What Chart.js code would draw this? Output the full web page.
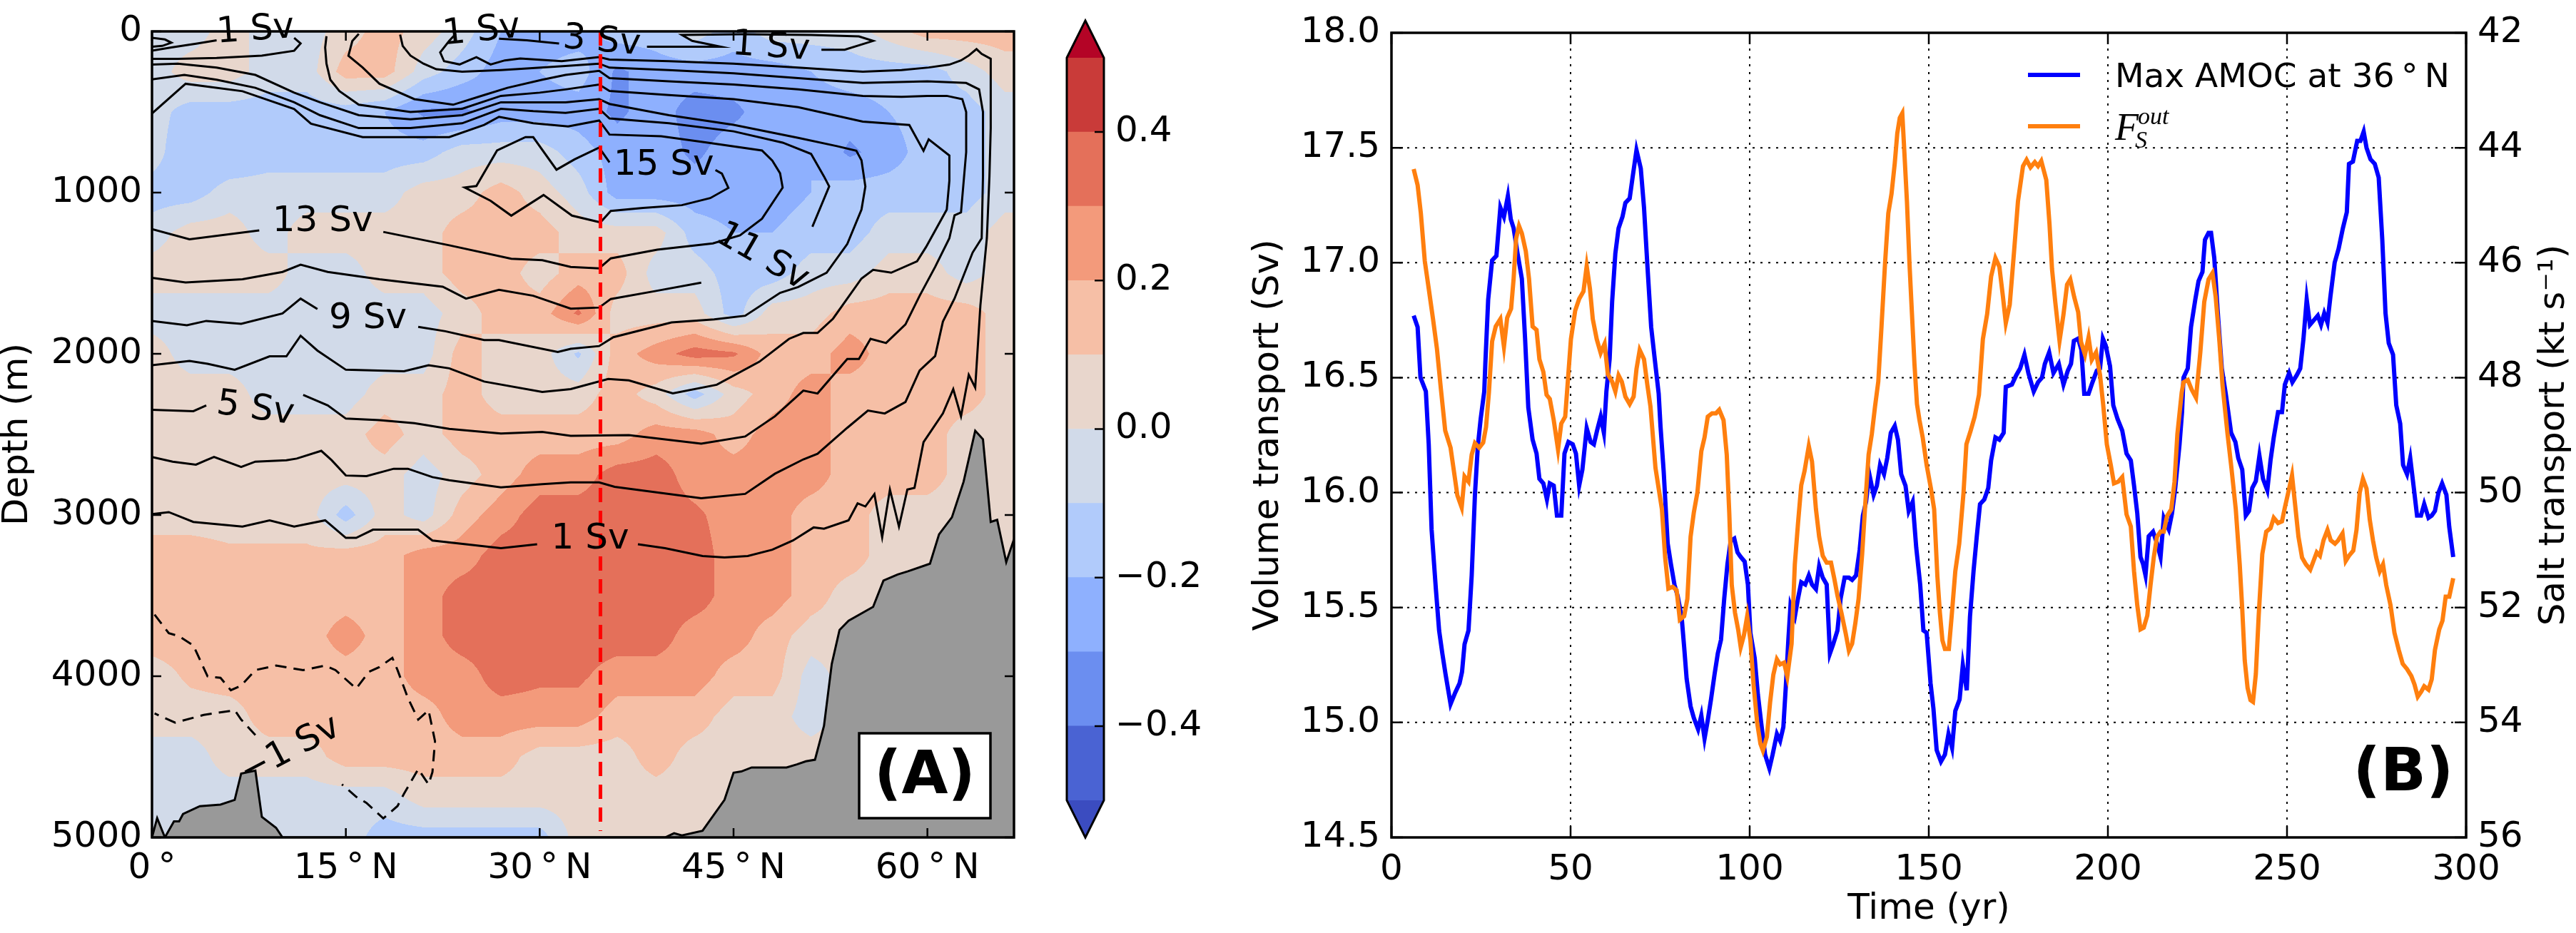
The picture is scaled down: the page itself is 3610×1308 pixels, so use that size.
<!DOCTYPE html>
<html>
<head>
<meta charset="utf-8">
<script src="https://cdn.jsdelivr.net/npm/chart.js@4.4.1/dist/chart.umd.min.js"></script>
<style>
  body { margin: 0; background: #fff; overflow: hidden; }
  #wrap { position: relative; width: 3610px; height: 1308px; background: #fff; }
  canvas { position: absolute; top: 0; }
</style>
</head>
<body>
<div id="wrap">
  <canvas id="chartA" width="1470" height="1308" style="left:0"></canvas>
  <canvas id="chartCb" width="230" height="1308" style="left:1470px"></canvas>
  <canvas id="chartB" width="1910" height="1308" style="left:1700px"></canvas>
</div>
<script>
// ---------- panel A : overturning anomaly section ----------
const anomLat = [0,3,6,9,12,15,18,21,24,27,30,33,36,39,42,45,48,51,54,57,60,63,66];
const anomDepth = [0,250,500,750,1000,1250,1500,1750,2000,2250,2500,2750,3000,3250,3500,3750,4000,4250,4500,4750,5000];
const anomaly = [
  [-0.05,-0.05,0.05,-0.05,-0.05,0.05,0.15,0.05,-0.05,-0.2,-0.25,-0.25,-0.15,-0.15,-0.05,-0.15,-0.05,-0.05,-0.05,0.05,0.15,0.15,0.15],
  [-0.05,0.05,0.05,-0.05,-0.05,0.15,0.15,-0.05,-0.15,-0.25,-0.2,-0.15,-0.32,-0.25,-0.25,-0.25,-0.25,-0.2,-0.15,-0.15,-0.15,-0.05,0.05],
  [-0.05,-0.15,-0.15,-0.15,-0.15,-0.15,-0.2,-0.32,-0.32,-0.25,-0.25,-0.25,-0.32,-0.25,-0.35,-0.32,-0.25,-0.25,-0.25,-0.2,-0.15,-0.15,-0.05],
  [-0.05,-0.2,-0.2,-0.15,-0.15,-0.15,-0.15,-0.15,-0.05,-0.05,-0.05,-0.15,-0.25,-0.25,-0.32,-0.25,-0.25,-0.2,-0.32,-0.25,-0.15,-0.15,-0.05],
  [-0.15,-0.15,-0.05,-0.05,-0.05,-0.05,-0.05,0.05,0.05,0.15,0.05,-0.05,-0.25,-0.25,-0.25,-0.25,-0.25,-0.2,-0.15,-0.15,-0.15,-0.15,-0.05],
  [-0.05,0.05,0.05,-0.05,0.05,0.05,0.05,0.05,0.15,0.15,0.15,0.05,0.05,0.05,-0.15,-0.2,-0.2,-0.15,-0.15,-0.05,-0.05,-0.05,0.05],
  [0.05,0.05,0.05,0.05,-0.05,-0.05,0.05,0.05,0.15,0.15,0.05,0.15,0.15,-0.05,-0.05,-0.15,-0.15,-0.05,-0.05,0.05,0.05,-0.05,0.05],
  [-0.05,-0.05,-0.05,-0.05,-0.05,-0.05,-0.05,-0.05,0.05,0.15,0.15,0.32,0.05,0.05,0.05,-0.15,0.05,0.05,0.15,0.15,0.15,0.15,0.05],
  [0.05,-0.05,-0.05,-0.05,-0.05,-0.05,-0.05,-0.05,0.15,0.05,0.05,-0.12,0.15,0.25,0.35,0.32,0.15,0.15,0.25,0.15,0.15,0.15,0.05],
  [0.05,0.05,0.05,-0.05,-0.05,-0.05,0.05,0.05,0.15,0.05,0.05,0.05,0.15,0.05,-0.15,0.05,0.15,0.25,0.15,0.15,0.15,0.15,0.05],
  [0.05,0.05,0.05,0.05,0.05,0.05,0.15,0.05,0.15,0.15,0.15,0.15,0.15,0.25,0.25,0.15,0.25,0.25,0.15,0.15,0.15,0.05,0.05],
  [0.05,0.05,0.05,0.05,0.05,0.05,0.05,-0.05,0.05,0.15,0.25,0.25,0.35,0.35,0.25,0.25,0.25,0.25,0.15,0.15,0.15,0.05,0.05],
  [0.05,0.05,0.05,0.05,0.05,-0.15,0.05,-0.05,0.15,0.25,0.35,0.35,0.35,0.35,0.32,0.25,0.25,0.15,0.15,0.05,0.05,0.05,0.05],
  [0.15,0.15,0.12,0.12,0.12,0.15,0.15,0.25,0.25,0.35,0.35,0.35,0.35,0.35,0.35,0.25,0.25,0.15,0.15,0.05,0.05,0.05,0.05],
  [0.15,0.15,0.15,0.15,0.15,0.15,0.15,0.25,0.35,0.35,0.35,0.35,0.35,0.35,0.35,0.25,0.25,0.15,0.05,0.05,0.05,0.05,0.05],
  [0.15,0.15,0.15,0.15,0.15,0.25,0.15,0.25,0.35,0.35,0.35,0.35,0.35,0.35,0.25,0.25,0.15,0.05,0.05,0.05,0.05,0.05,0.05],
  [0.05,0.12,0.15,0.15,0.15,0.15,0.15,0.25,0.25,0.35,0.32,0.32,0.25,0.25,0.25,0.15,0.15,-0.05,0.05,0.05,0.05,0.05,0.05],
  [0.05,0.05,0.05,0.15,0.15,0.15,0.15,0.15,0.25,0.25,0.25,0.25,0.15,0.15,0.15,0.05,0.05,-0.05,0.05,0.05,0.05,0.05,0.05],
  [-0.05,-0.05,0.05,0.05,0.05,0.15,0.15,0.15,0.15,0.15,0.05,0.05,0.05,0.15,0.05,0.05,0.05,0.05,0.05,0.05,0.05,0.05,0.05],
  [-0.05,-0.05,-0.05,-0.05,-0.05,-0.05,-0.05,0.05,0.05,0.05,0.05,0.05,0.05,0.05,0.05,0.05,0.05,0.05,0.05,0.05,0.05,0.05,0.05],
  [-0.05,-0.05,-0.05,-0.05,-0.05,-0.05,-0.15,-0.15,-0.15,-0.15,-0.15,0.05,0.05,0.05,0.05,0.05,0.05,0.05,0.05,0.05,0.05,0.05,0.05]
];
const levelEdges = [-0.5,-0.4,-0.3,-0.2,-0.1,0,0.1,0.2,0.3,0.4,0.5];

// streamfunction contours, [lat, depth]; null = gap for the inline label
const psi1 = [[0,2995],[1.3,2982],[3.2,3043],[7,3072],[9.1,3033],[11,3072],[13.4,3033],[15,3142],[15.8,3142],[17.1,3091],[20.6,3091],[21.7,3158],[27,3206],[29.8,3181],null,
  [37.6,3181],[39.7,3206],[42.6,3254],[44.3,3263],[46.1,3254],[48,3215],[49.6,3158],[51.2,3077],[52,3085],[53.9,3033],[54.6,2928],[55.2,2947],[55.9,2870],[56.5,3139],[57.1,2842],[57.8,3072],[58.45,2842],[59,2832],[59.7,2548],[61.2,2370],[62,2219],[62.6,2388],[63.2,2130],[63.7,2210],
  [64.1,1700],[64.6,1283],[64.8,900],[64.9,600],[64.9,170],[64.2,140],[63.8,110],[63.2,150],[62.6,180],[61.7,206],[60.1,224],[58,240],[55,250],[53.6,243],[50,225],[45,200],[40,185],[35.4,175],[34.6,159],[31.7,185],[28.5,168],[27.3,180],[26.2,205],[25.1,160],[23.8,205],[22.6,185],[22.3,130],[23,59],[23.5,15]];
const psi3 = [[0,2640],[1.6,2669],[3.4,2688],[4.2,2660],[4.8,2640],[6.9,2702],[8,2669],[10.4,2660],[11.2,2650],[13.1,2602],[13.9,2660],[15,2755],[16.6,2759],[18.7,2713],[19.8,2713],[21.7,2765],[23,2784],[27,2828],[30.2,2809],[32.4,2798],[34.6,2798],[35.8,2825],[42.5,2896],[45.9,2869],[48.2,2744],[50.4,2655],[51.5,2620],[53.8,2459],[55.4,2352],[56.7,2370],[58.3,2299],[59.4,2103],[60.6,2014],[61.2,1800],[62.1,1657],[63.5,1372],[64.2,1283],
  [64.3,900],[64.3,500],[64,360],[63,320],[60,310],[55,320],[50,290],[45,260],[40,240],[35.4,225],[34.6,200],[32,215],[29,230],[27,240],[24,250],[22,235],[21,200],[20,150],[19.4,90],[19.2,20]];
const psi5 = [[0,2347],[3.2,2356],[4.2,2320],null,[11.7,2255],[13.6,2320],[15,2402],[17.6,2412],[20.3,2430],[23,2466],[27,2494],[30.2,2485],[32.4,2509],[36.9,2504],[42.5,2557],[45.9,2513],[48.2,2388],[50.4,2228],[51.5,2246],[53.8,2032],[54.7,2032],[55.6,1907],[56.8,1933],[58.3,1818],[59.4,1640],[60.6,1461],[61.7,1283],[62.1,1141],[62.6,1123],[63,749],
  [63,500],[62.7,420],[61.5,400],[60,400],[58,406],[55,400],[50,360],[45,330],[40,310],[35.4,290],[34.6,245],[32,270],[30.2,300],[27.5,350],[25.7,395],[23.3,455],[20.3,420],[17.6,325],[16.3,224],[15.2,151],[15.5,60],[16,15]];
const psi7 = [[0,2071],[2.9,2044],[4.3,2062],[6.4,2099],[9.1,2016],[10.4,2016],[11.5,1888],[12.8,1980],[15,2099],[19.5,2108],[21.4,2071],[23,2090],[25.7,2172],[30.2,2237],[32.4,2219],[35.3,2156],[36.9,2165],[40.3,2245],[43.7,2192],[47,2049],[49.3,1907],[50.4,1871],[51.5,1871],[52.7,1782],[54.9,1533],[55.8,1479],[57.2,1497],[59.2,1426],[59.9,1337],[61.5,1105],[61.7,927],
  [61.7,770],[60.1,670],[59.7,741],[58.6,581],[55,560],[50,470],[45,420],[40,395],[35.4,370],[34.6,330],[32,360],[30,380],[27,400],[24,480],[20,500],[16,455],[14.5,370],[13.8,300],[13.5,200],[13.4,100],[13.5,30]];
const psi9 = [[0,1796],[2.7,1823],[4.2,1796],[6.9,1814],[10.1,1750],[11.5,1658],[12.8,1722],null,[20.6,1833],[22.7,1860],[25.7,1915],[26.85,1915],[31.4,1989],[32.4,1969],[34.6,1952],[35.7,1897],[40.2,1805],[43.5,1787],[45.9,1764],[48.6,1622],[50,1586],[52.2,1497],[53.8,1319],[54.9,1105],[55.2,962],
  [54.9,800],[54.5,740],[53,712],[50,660],[45,580],[40,520],[35.4,450],[34.6,420],[32,440],[29.5,440],[27,440],[24,520],[20,545],[16,520],[13,440],[11,380],[8,270],[5,225],[2,200],[0,206]];
const psi11 = [[0,1529],[2.6,1557],[7,1538],[10.1,1492],[11.5,1447],[13.6,1492],[17.6,1538],[22.5,1584],[24.3,1658],[26.85,1603],[29.5,1640],[32.4,1720],[34.6,1713],[35.5,1660],[39,1610],[42.5,1559],null,
  [51.1,1212],[52.4,962],[52,900],[51,760],[48.8,690],[45,620],[40,570],[35.4,540],[34.6,480],[32,505],[29.5,495],[27,480],[24,570],[20,600],[16,600],[13,520],[11,440],[8,350],[5,300],[2.5,270],[0,298]];
const psi13 = [[0,1226],[2.9,1290],[8.3,1235],null,[17.9,1244],[23,1327],[27.8,1410],[30.2,1419],[32.4,1461],[34.6,1470],[35.5,1408],[39.1,1354],[43.4,1315],[45.5,1265],[47.2,1162],[48.8,969],[48.6,880],[48,802],[47.2,739],[43,690],[39.4,650],[35.4,640],[34.6,553],[32.2,590],[29.5,570],[26.85,530],[25.7,580],[23,656],[16.3,656],[12.3,573],[11,482],[7,371],[2.6,325],[0,509]];
const psi15 = [[35.4,812],[34.6,721],[32.7,794],[31.3,858],[29.5,656],[28.9,656],[26.7,739],[25.1,959],[24.2,968],[26.2,1051],[27.8,1143],[30.3,1015],[32.5,1143],[34.7,1185],[35.5,1114],[38,1095],[41,1078],[43.2,1034],[44.6,971],[44.1,882],[43.6,860]];
const psiSurfA = [[0,40],[1,50],[1.5,70],[0.8,90],[0,95]];
const psiSurfB = [[0,120],[1.5,100],[3.5,75],[5,55],null,[11,40],[11.5,75],[11,120],[8.5,150],[5,165],[2,170],[0,170]];
const psiSurfC = [[26.85,45],[29,55],[31.5,75],null,[38.3,95],[44,95],[41.8,59],[41,22],[45.6,18],[51,22],[54.7,31],[55.8,59],[53.6,114],[51.8,114]];
const psiNeg1 = [[0.2,3618],[1.3,3733],[2.1,3752],[3.2,3809],[4.3,4001],[5.3,4010],[6.1,4087],[6.9,4058],[8,3962],[9.6,3934],[11.7,3962],[13.4,3934],[14.2,3962],[15.8,4077],[16.8,3972],[17.6,3943],[18.6,3886],[19,3962],[19.8,4135],[20.6,4269],[21.4,4211],[21.9,4403],[21.7,4595],[21.4,4671],[20.6,4576],[19.5,4729],[19,4805],[17.9,4882],[16.6,4786],[15.8,4748],[14.7,4671],null,[8,4365],[6.9,4269],[6.4,4211],[4,4240],[1.8,4288],[0.2,4231]];

const contourLabels = [
  { text: '1 Sv', lat: 8.0, depth: -5, rot: -4 },
  { text: '1 Sv', lat: 25.5, depth: 0, rot: -6 },
  { text: '3 Sv', lat: 34.8, depth: 65, rot: 5 },
  { text: '1 Sv', lat: 47.9, depth: 100, rot: 4 },
  { text: '15 Sv', lat: 39.6, depth: 830, rot: 0 },
  { text: '13 Sv', lat: 13.2, depth: 1180, rot: 0 },
  { text: '11 Sv', lat: 47.2, depth: 1400, rot: 30 },
  { text: '9 Sv', lat: 16.7, depth: 1785, rot: 0 },
  { text: '5 Sv', lat: 8.0, depth: 2345, rot: 8 },
  { text: '1 Sv', lat: 33.9, depth: 3150, rot: 0 },
  { text: '\u22121 Sv', lat: 10.7, depth: 4460, rot: -28 }
];

const topoLat = [0,0.4,1.0,1.7,2.1,2.4,3.7,5.3,6.4,6.9,8.0,8.5,9.6,10.1,39.7,40.4,41.0,42.6,44.3,45.0,45.6,46.4,49.1,49.9,50.6,51.3,52.0,52.6,53.2,53.9,55.8,56.6,57.7,58.5,60.2,60.9,61.9,62.8,63.7,64.3,64.9,65.4,66.1,66.7];
const topoDepth = [5000,4880,5000,4900,4900,4855,4806,4796,4767,4604,4585,4872,4940,5000,5000,4974,4988,4959,4767,4599,4591,4566,4566,4547,4528,4518,4307,3924,3713,3656,3570,3407,3369,3349,3302,3120,3014,2794,2477,2530,3043,3030,3292,3150];
const sectionLat = 34.7;
const sectionDepth = [0, 4960];

const latTicks = [0,15,30,45,60];
const depthTicks = [0,1000,2000,3000,4000,5000];
const cbTicks = [-0.4,-0.2,0,0.2,0.4];

// ---------- panel B : time series ----------
const amocYear = [6.2,7.3,8.1,9.6,10.4,11.2,12.4,13.3,14.2,15.1,16.5,17.8,19.0,19.7,20.4,21.5,22.4,23.3,24.1,24.9,25.9,26.2,27.0,28.1,29.3,30.4,31.4,32.5,33.3,34.1,35.2,36.4,37.3,38.2,39.4,40.5,41.3,42.4,43.4,44.2,45.3,46.2,47.4,48.3,49.4,50.6,51.5,52.4,53.3,54.5,55.6,56.5,57.4,58.4,59.3,60.0,60.9,61.6,62.5,63.4,64.5,65.3,66.5,67.3,68.4,69.6,70.5,71.4,72.5,73.5,74.6,75.1,76.0,77.1,78.0,79.0,79.9,81.0,81.7,82.4,83.5,84.4,85.6,86.5,87.4,88.3,89.2,90.2,91.1,92.0,92.9,93.8,94.7,95.7,96.6,97.5,98.6,99.5,100.2,101.4,102.3,103.2,104.3,105.5,106.4,107.6,108.5,109.4,110.1,110.8,111.4,112.6,113.5,114.4,115.5,116.5,117.4,118.5,119.4,120.4,121.5,122.4,123.3,124.5,125.4,126.5,127.7,128.6,129.7,130.7,131.6,132.5,133.4,134.6,135.5,136.4,137.5,138.4,139.4,140.5,141.4,142.3,143.5,144.4,145.5,146.5,147.6,148.5,149.4,150.5,151.3,152.2,153.4,154.5,155.5,156.5,157.4,158.6,159.5,160.6,161.5,162.5,163.4,164.3,165.5,166.6,167.4,168.6,169.7,170.9,171.5,173.2,174.4,175.5,176.7,177.8,179.3,180.5,181.6,182.4,183.6,184.8,186.3,187.6,188.8,189.7,190.5,191.7,192.6,193.4,194.6,195.7,196.9,197.8,198.6,199.4,200.6,201.5,202.7,204.0,205.2,206.4,207.3,208.2,209.1,209.8,210.5,211.4,212.6,213.7,214.7,215.6,217.0,217.9,218.8,220.0,220.7,221.1,222.3,223.2,224.4,225.3,226.4,227.1,228.1,228.8,229.7,230.6,231.8,232.9,234.4,235.6,236.4,237.5,238.5,239.4,240.3,241.3,242.3,243.3,244.5,245.4,246.3,247.5,248.6,249.4,250.6,251.5,252.7,253.7,254.6,255.5,256.4,257.5,258.6,259.5,260.4,261.3,262.1,263.3,264.4,265.6,266.7,267.3,268.4,269.6,270.5,271.4,272.2,273.3,274.5,275.6,276.6,277.5,278.4,279.6,280.5,281.6,282.4,283.5,284.4,285.4,286.3,287.4,288.3,289.5,290.4,291.3,292.3,293.3,294.5,295.3,296.4];
const amocSv = [16.77,16.72,16.50,16.44,16.21,15.84,15.58,15.40,15.30,15.21,15.08,15.13,15.17,15.22,15.34,15.40,15.64,15.99,16.20,16.32,16.44,16.56,16.84,17.01,17.03,17.24,17.20,17.29,17.19,17.15,17.04,16.93,16.67,16.37,16.23,16.17,16.06,16.04,15.97,16.04,16.03,15.90,15.90,16.17,16.22,16.21,16.17,16.03,16.10,16.28,16.22,16.21,16.27,16.33,16.26,16.44,16.58,16.83,17.04,17.15,17.20,17.26,17.28,17.37,17.49,17.41,17.24,17.00,16.72,16.58,16.43,16.29,16.09,15.78,15.69,15.60,15.55,15.46,15.33,15.19,15.07,15.02,14.97,15.03,14.93,15.01,15.10,15.21,15.30,15.36,15.54,15.69,15.79,15.80,15.74,15.72,15.70,15.60,15.39,15.28,15.12,15.00,14.86,14.80,14.86,14.95,14.92,14.98,15.16,15.36,15.51,15.46,15.54,15.61,15.60,15.64,15.60,15.58,15.68,15.63,15.60,15.30,15.34,15.40,15.54,15.63,15.63,15.62,15.64,15.75,15.90,15.96,16.08,15.99,16.03,16.12,16.08,16.15,16.26,16.29,16.23,16.08,16.03,15.92,15.96,15.76,15.60,15.40,15.39,15.17,15.06,14.88,14.83,14.86,14.95,14.89,15.05,15.10,15.25,15.14,15.46,15.66,15.81,15.95,15.97,16.02,16.14,16.24,16.23,16.26,16.46,16.47,16.51,16.54,16.60,16.52,16.44,16.48,16.50,16.56,16.61,16.52,16.56,16.47,16.53,16.56,16.66,16.67,16.62,16.43,16.43,16.48,16.53,16.54,16.67,16.64,16.55,16.38,16.32,16.27,16.17,16.14,16.03,15.91,15.72,15.69,15.64,15.81,15.83,15.78,15.72,15.89,15.84,15.91,16.02,16.21,16.35,16.50,16.54,16.72,16.84,16.92,16.96,17.10,17.13,17.13,17.02,16.80,16.54,16.43,16.26,16.22,16.15,16.10,15.90,15.92,16.02,16.05,16.16,16.06,16.01,16.14,16.24,16.35,16.35,16.47,16.52,16.48,16.51,16.54,16.67,16.84,16.73,16.75,16.77,16.73,16.78,16.74,16.85,17.00,17.06,17.15,17.22,17.43,17.44,17.53,17.53,17.57,17.50,17.45,17.43,17.37,17.10,16.78,16.65,16.60,16.38,16.30,16.12,16.08,16.15,16.02,15.90,15.90,15.95,15.89,15.90,15.92,16.00,16.04,15.99,15.85,15.72];
const saltYear = [6.2,7.3,8.2,9.3,10.4,11.6,12.7,13.8,15.0,16.5,17.3,18.4,19.6,20.4,21.5,22.4,23.3,24.5,25.6,26.4,27.2,28.1,29.1,30.4,31.4,32.3,33.4,34.1,34.8,35.6,36.4,37.5,38.4,39.4,40.5,41.3,42.4,43.3,44.2,45.3,46.5,47.4,48.5,49.0,50.1,51.3,52.4,53.6,54.5,55.4,56.2,57.3,58.4,59.5,60.4,61.6,62.5,63.4,64.3,65.3,66.5,67.6,68.4,69.3,70.5,71.4,72.3,73.7,74.6,75.5,76.4,77.3,78.5,79.6,80.5,81.7,82.6,83.5,84.4,85.4,86.5,87.4,88.3,89.5,90.6,91.5,92.7,93.6,94.3,95.0,95.9,96.8,97.5,98.4,99.3,100.2,101.1,102.1,103.0,103.7,104.8,105.7,106.6,107.6,108.5,109.6,110.5,111.7,112.6,113.5,114.4,115.3,116.5,117.4,118.5,119.4,120.4,121.5,122.7,123.6,124.5,125.6,126.8,127.7,128.6,129.5,130.4,131.4,132.3,133.2,134.1,135.0,135.9,136.8,137.8,138.7,139.6,140.5,141.2,141.9,142.6,143.2,143.9,144.6,145.3,146.0,146.7,147.4,148.3,149.4,150.6,151.5,152.4,153.1,153.8,154.5,155.6,156.4,157.4,158.5,159.7,160.5,161.7,162.8,164.0,165.1,166.3,167.4,168.6,169.7,170.7,171.5,172.6,173.8,174.9,176.3,177.3,178.4,179.6,180.5,181.4,182.8,183.7,184.4,185.3,186.5,187.6,188.6,189.5,190.6,191.7,192.5,193.6,194.6,195.5,196.7,197.8,198.7,199.7,200.8,201.7,202.9,204.0,205.2,206.4,207.3,208.2,209.1,210.0,211.0,211.9,212.8,213.7,214.7,215.6,216.5,217.7,218.6,219.4,220.6,221.1,222.3,223.4,224.6,225.8,226.9,228.1,229.2,230.1,231.1,232.0,233.4,234.5,235.7,236.8,237.5,238.2,239.0,239.8,240.5,241.3,242.1,243.1,244.2,245.4,246.3,247.5,248.6,249.4,250.6,251.4,252.3,253.2,254.2,255.3,256.5,257.4,258.3,259.2,260.2,261.3,262.2,263.4,264.3,265.5,266.4,267.3,268.5,269.4,270.3,271.2,272.2,273.1,274.0,274.9,275.9,276.8,277.7,278.9,280.0,281.2,282.3,283.5,284.7,285.6,286.5,287.5,288.3,289.5,290.4,291.3,292.5,293.4,294.3,295.3,296.4];
const saltKt = [44.37,44.65,45.14,45.97,46.45,46.98,47.50,48.20,48.92,49.22,49.57,50.05,50.26,49.72,49.81,49.34,49.14,49.22,49.13,48.86,48.26,47.37,47.11,46.98,47.46,46.96,46.80,46.28,45.58,45.36,45.49,45.80,46.28,47.11,47.17,47.68,47.90,48.30,48.37,48.74,49.25,48.80,48.68,48.26,47.33,46.83,46.63,46.50,46.06,46.45,46.98,47.33,47.57,47.41,47.94,48.07,48.24,47.96,48.07,48.33,48.46,48.33,47.85,47.52,47.68,48.11,48.50,49.57,49.93,50.29,51.13,51.67,51.64,51.70,52.21,52.15,51.85,50.77,50.35,50.00,49.28,49.04,48.68,48.62,48.62,48.56,48.74,49.34,50.35,51.61,52.09,52.39,52.69,52.48,52.15,52.57,53.35,54.01,54.37,54.49,54.25,53.65,53.17,52.90,52.99,52.96,53.20,52.63,51.25,50.53,49.87,49.63,49.19,49.46,50.29,50.77,51.10,51.22,51.22,51.49,51.79,52.09,52.45,52.75,52.63,52.27,51.85,51.07,50.17,49.34,48.98,48.50,48.07,47.11,46.00,45.14,44.80,44.27,43.75,43.48,43.40,44.10,44.93,46.00,46.89,47.76,48.46,48.74,49.04,49.52,49.93,50.29,51.46,52.09,52.57,52.72,52.72,52.14,51.37,50.89,50.00,49.16,48.92,48.68,48.30,47.33,46.89,46.24,45.92,46.07,46.59,47.05,46.73,45.81,44.93,44.32,44.21,44.34,44.25,44.32,44.23,44.56,45.33,46.11,46.68,47.36,46.90,46.38,46.29,46.60,46.86,47.38,47.60,47.30,47.69,47.56,47.95,48.48,49.16,49.52,49.84,49.81,49.73,50.38,50.59,51.37,51.96,52.38,52.35,52.14,51.61,51.13,50.77,50.68,50.68,50.41,50.29,49.81,48.98,48.26,48.08,48.04,48.21,48.35,47.56,46.68,46.29,46.18,46.60,47.34,48.13,48.98,49.58,50.29,51.25,52.02,52.92,53.40,53.61,53.64,53.16,52.14,51.07,50.68,50.62,50.44,50.53,50.50,50.26,49.93,49.70,50.23,50.77,51.13,51.25,51.34,51.19,51.04,51.10,50.83,50.65,50.83,50.89,50.83,50.71,51.19,51.10,51.01,50.65,50.00,49.76,49.93,50.47,50.83,51.13,51.37,51.25,51.61,51.96,52.44,52.74,52.98,53.07,53.19,53.34,53.55,53.46,53.37,53.43,53.25,52.74,52.38,52.23,51.81,51.81,51.49];
const timeTicks = [0,50,100,150,200,250,300];
const volTicks = [14.5,15.0,15.5,16.0,16.5,17.0,17.5,18.0];
const saltTicks = [42,44,46,48,50,52,54,56];

// ---------- styling ----------
const levelColors = ['#4a63d3','#6b8ef0','#8eb0fe','#b1cbfb','#d1dae9','#e8d6cc','#f6bfa6','#f39a7b','#e4705a','#c93b39'];
const underColor = '#3b4cc0', overColor = '#b40426';
const FONT = "'DejaVu Sans', sans-serif";
Chart.defaults.font.family = FONT;
Chart.defaults.font.size = 50;
Chart.defaults.color = '#000';

function hexRgb(h) { return [parseInt(h.slice(1,3),16), parseInt(h.slice(3,5),16), parseInt(h.slice(5,7),16)]; }
const binRgb = [underColor].concat(levelColors, [overColor]).map(hexRgb);

function pts(path) {
  const out = []; let cur = [];
  for (const p of path) {
    if (p === null) { if (cur.length) out.push(cur); cur = []; }
    else cur.push({ x: p[0], y: p[1] });
  }
  if (cur.length) out.push(cur);
  return out;
}
function fieldAt(lat, dep) {
  const dl = anomLat[1] - anomLat[0], dd = anomDepth[1] - anomDepth[0];
  let fi = Math.min(Math.max(lat / dl, 0), anomLat.length - 1.0001);
  let fj = Math.min(Math.max(dep / dd, 0), anomDepth.length - 1.0001);
  const i = Math.floor(fi), j = Math.floor(fj), a = fi - i, b = fj - j;
  const r0 = anomaly[j], r1 = anomaly[j + 1];
  return (r0[i] * (1 - a) + r0[i + 1] * a) * (1 - b) + (r1[i] * (1 - a) + r1[i + 1] * a) * b;
}
function binOf(v) {
  if (v < levelEdges[0]) return 0;
  for (let k = 1; k < levelEdges.length; k++) if (v < levelEdges[k]) return k;
  return levelEdges.length;
}
function inwardTicks(ctx, a, xs, ys, len) {
  ctx.save();
  ctx.strokeStyle = '#000'; ctx.lineWidth = 2.5; ctx.setLineDash([]);
  ctx.beginPath();
  for (const px of xs) { ctx.moveTo(px, a.bottom); ctx.lineTo(px, a.bottom - len); ctx.moveTo(px, a.top); ctx.lineTo(px, a.top + len); }
  for (const [py, side] of ys) {
    if (side !== 'r') { ctx.moveTo(a.left, py); ctx.lineTo(a.left + len, py); }
    if (side !== 'l') { ctx.moveTo(a.right, py); ctx.lineTo(a.right - len, py); }
  }
  ctx.stroke();
  ctx.restore();
}

// ---------- chart A ----------
const dsA = [];
dsA.push({ data: [{ x: sectionLat, y: sectionDepth[0] }, { x: sectionLat, y: sectionDepth[1] }], showLine: true, borderColor: '#ff0000', borderWidth: 5, borderDash: [20, 12], pointRadius: 0, order: 0 });
dsA.push({ data: topoLat.map((v, i) => ({ x: v, y: topoDepth[i] })), showLine: true, borderColor: '#000', borderWidth: 3, backgroundColor: '#999999', fill: { value: 5000 }, pointRadius: 0, order: 1 });
[psi1, psi3, psi5, psi7, psi9, psi11, psi13, psi15, psiSurfA, psiSurfB, psiSurfC].forEach(path => {
  pts(path).forEach(seg => dsA.push({ data: seg, showLine: true, borderColor: '#000', borderWidth: 3, pointRadius: 0, fill: false, order: 2 }));
});
pts(psiNeg1).forEach(seg => dsA.push({ data: seg, showLine: true, borderColor: '#000', borderWidth: 3, borderDash: [16, 10], pointRadius: 0, fill: false, order: 2 }));

const fieldPlugin = {
  id: 'field',
  beforeDatasetsDraw(chart) {
    const { ctx, chartArea: a, scales: { x, y } } = chart;
    const x0 = Math.round(a.left), y0 = Math.round(a.top);
    const w = Math.round(a.right) - x0, h = Math.round(a.bottom) - y0;
    const img = ctx.createImageData(w, h);
    const lats = [], deps = [];
    for (let i = 0; i < w; i++) lats.push(x.getValueForPixel(x0 + i + 0.5));
    for (let j = 0; j < h; j++) deps.push(y.getValueForPixel(y0 + j + 0.5));
    let k = 0;
    for (let j = 0; j < h; j++) {
      for (let i = 0; i < w; i++) {
        const c = binRgb[binOf(fieldAt(lats[i], deps[j]))];
        img.data[k++] = c[0]; img.data[k++] = c[1]; img.data[k++] = c[2]; img.data[k++] = 255;
      }
    }
    ctx.putImageData(img, x0, y0);
  },
  afterDatasetsDraw(chart) {
    const { ctx, chartArea: a, scales: { x, y } } = chart;
    ctx.save();
    ctx.fillStyle = '#000';
    ctx.font = '50px ' + FONT;
    ctx.textAlign = 'center'; ctx.textBaseline = 'middle';
    for (const lb of contourLabels) {
      ctx.save();
      ctx.translate(x.getPixelForValue(lb.lat), y.getPixelForValue(lb.depth));
      ctx.rotate(lb.rot * Math.PI / 180);
      ctx.fillText(lb.text, 0, 0);
      ctx.restore();
    }
    ctx.lineWidth = 3.5; ctx.strokeStyle = '#000';
    ctx.strokeRect(a.left, a.top, a.right - a.left, a.bottom - a.top);
    inwardTicks(ctx, a, latTicks.map(v => x.getPixelForValue(v)), depthTicks.map(v => [y.getPixelForValue(v), 'b']), 13);
    // panel tag
    const bx = a.right - 217, by = a.bottom - 146;
    ctx.fillStyle = '#fff';
    ctx.fillRect(bx, by, 184, 119);
    ctx.lineWidth = 3.5; ctx.strokeRect(bx, by, 184, 119);
    ctx.fillStyle = '#000';
    ctx.font = 'bold 84px ' + FONT;
    ctx.fillText('(A)', bx + 92, by + 62);
    ctx.restore();
  }
};

new Chart(document.getElementById('chartA'), {
  type: 'scatter',
  data: { datasets: dsA },
  options: {
    responsive: false, animation: false, devicePixelRatio: 1,
    layout: { padding: { left: 0, top: 29, right: 49, bottom: 0 }, autoPadding: false },
    plugins: { legend: { display: false }, tooltip: { enabled: false } },
    scales: {
      x: {
        type: 'linear', min: 0, max: 66.7,
        afterFit: s => { s.height = 134; },
        afterBuildTicks: s => { s.ticks = latTicks.map(v => ({ value: v })); },
        ticks: { padding: 14, maxRotation: 0, autoSkip: false, callback: v => v === 0 ? '0\u2009\u00b0' : v + '\u2009\u00b0\u2009N' },
        grid: { display: false, drawTicks: false }, border: { display: false }
      },
      y: {
        type: 'linear', reverse: true, min: 0, max: 5000,
        afterFit: s => { s.width = 213; },
        afterBuildTicks: s => { s.ticks = depthTicks.map(v => ({ value: v })); },
        ticks: { padding: 14, autoSkip: false, callback: v => String(v) },
        title: { display: true, text: 'Depth (m)', padding: 0, font: { size: 50, lineHeight: 1 } },
        grid: { display: false, drawTicks: false }, border: { display: false }
      }
    }
  },
  plugins: [fieldPlugin]
});

// ---------- colour bar ----------
const cbPlugin = {
  id: 'cbExtras',
  afterDatasetsDraw(chart) {
    const { ctx, chartArea: a, scales: { y } } = chart;
    const yTop = y.getPixelForValue(levelEdges[levelEdges.length - 1]);
    const yBot = y.getPixelForValue(levelEdges[0]);
    const ext = 0.05 * (yBot - yTop), cx = (a.left + a.right) / 2;
    ctx.save();
    ctx.fillStyle = overColor;
    ctx.beginPath(); ctx.moveTo(a.left, yTop); ctx.lineTo(cx, yTop - ext); ctx.lineTo(a.right, yTop); ctx.closePath(); ctx.fill();
    ctx.fillStyle = underColor;
    ctx.beginPath(); ctx.moveTo(a.left, yBot); ctx.lineTo(cx, yBot + ext); ctx.lineTo(a.right, yBot); ctx.closePath(); ctx.fill();
    ctx.strokeStyle = '#000'; ctx.lineWidth = 3;
    ctx.beginPath();
    ctx.moveTo(a.left, yTop); ctx.lineTo(cx, yTop - ext); ctx.lineTo(a.right, yTop);
    ctx.lineTo(a.right, yBot); ctx.lineTo(cx, yBot + ext); ctx.lineTo(a.left, yBot); ctx.closePath();
    ctx.stroke();
    ctx.lineWidth = 2.5;
    ctx.beginPath();
    for (const v of cbTicks) { const py = y.getPixelForValue(v); ctx.moveTo(a.right, py); ctx.lineTo(a.right - 13, py); }
    ctx.stroke();
    ctx.restore();
  }
};
new Chart(document.getElementById('chartCb'), {
  type: 'bar',
  data: {
    labels: [''],
    datasets: levelColors.map((c, i) => ({ data: [[levelEdges[i], levelEdges[i + 1]]], backgroundColor: c, borderWidth: 0, barPercentage: 1, categoryPercentage: 1, grouped: false }))
  },
  options: {
    responsive: false, animation: false, devicePixelRatio: 1,
    layout: { padding: { left: 25, top: 81, right: 0, bottom: 186 }, autoPadding: false },
    plugins: { legend: { display: false }, tooltip: { enabled: false } },
    scales: {
      x: { display: false },
      y: {
        position: 'right', min: -0.5, max: 0.5,
        afterFit: s => { s.width = 153; },
        afterBuildTicks: s => { s.ticks = cbTicks.map(v => ({ value: v })); },
        ticks: { padding: 16, autoSkip: false, callback: v => Math.abs(v) < 1e-9 ? '0.0' : v.toFixed(1).replace('-', '\u2212') },
        grid: { display: false, drawTicks: false }, border: { display: false }
      }
    }
  },
  plugins: [cbPlugin]
});

// ---------- chart B ----------
const seriesBPlugin = {
  id: 'seriesB',
  beforeDatasetsDraw(chart) {
    const { ctx, chartArea: a, scales: { x, y } } = chart;
    ctx.save();
    ctx.strokeStyle = '#000'; ctx.lineWidth = 2; ctx.setLineDash([3, 8]);
    ctx.beginPath();
    timeTicks.slice(1, -1).forEach(v => { const px = x.getPixelForValue(v); ctx.moveTo(px, a.top); ctx.lineTo(px, a.bottom); });
    volTicks.slice(1, -1).forEach(v => { const py = y.getPixelForValue(v); ctx.moveTo(a.left, py); ctx.lineTo(a.right, py); });
    ctx.stroke();
    ctx.restore();
  },
  afterDatasetsDraw(chart) {
    const { ctx, chartArea: a, scales: { x, y, y2 } } = chart;
    ctx.save();
    ctx.strokeStyle = '#000'; ctx.lineWidth = 3.5;
    ctx.strokeRect(a.left, a.top, a.right - a.left, a.bottom - a.top);
    inwardTicks(ctx, a, timeTicks.map(v => x.getPixelForValue(v)),
      volTicks.map(v => [y.getPixelForValue(v), 'l']).concat(saltTicks.map(v => [y2.getPixelForValue(v), 'r'])), 16);
    // legend
    const ds = chart.data.datasets;
    const lx0 = a.right - 614, lx1 = a.right - 541, tx = a.right - 492;
    ctx.lineWidth = 6;
    ctx.strokeStyle = ds[0].borderColor;
    ctx.beginPath(); ctx.moveTo(lx0, a.top + 59); ctx.lineTo(lx1, a.top + 59); ctx.stroke();
    ctx.strokeStyle = ds[1].borderColor;
    ctx.beginPath(); ctx.moveTo(lx0, a.top + 131); ctx.lineTo(lx1, a.top + 131); ctx.stroke();
    ctx.fillStyle = '#000';
    ctx.textAlign = 'left'; ctx.textBaseline = 'alphabetic';
    ctx.font = '47px ' + FONT;
    ctx.fillText(ds[0].label, tx, a.top + 76);
    ctx.font = 'italic 54px "Liberation Serif", serif';
    ctx.fillText('F', tx, a.top + 150);
    ctx.font = 'italic 34px "Liberation Serif", serif';
    ctx.fillText('out', tx + 32, a.top + 128);
    ctx.fillText('S', tx + 28, a.top + 161);
    // panel tag
    ctx.font = 'bold 84px ' + FONT;
    ctx.textAlign = 'center'; ctx.textBaseline = 'middle';
    ctx.fillText('(B)', a.right - 88, a.bottom - 88);
    // right axis title, reading upwards
    ctx.font = '50px ' + FONT;
    ctx.translate(a.right + 124, (a.top + a.bottom) / 2);
    ctx.rotate(-Math.PI / 2);
    ctx.fillText('Salt transport (kt s\u207b\u00b9)', 0, 0);
    ctx.restore();
  }
};

new Chart(document.getElementById('chartB'), {
  type: 'scatter',
  data: {
    datasets: [
      { label: 'Max AMOC at 36\u2009\u00b0\u2009N', data: amocYear.map((t, i) => ({ x: t, y: amocSv[i] })), yAxisID: 'y', showLine: true, borderColor: '#0000ff', borderWidth: 6, pointRadius: 0, fill: false, order: 1 },
      { label: 'F_S^out', data: saltYear.map((t, i) => ({ x: t, y: saltKt[i] })), yAxisID: 'y2', showLine: true, borderColor: '#ff7f0e', borderWidth: 6, pointRadius: 0, fill: false, order: 0 }
    ]
  },
  options: {
    responsive: false, animation: false, devicePixelRatio: 1,
    layout: { padding: { left: 53, top: 29, right: 0, bottom: 0 }, autoPadding: false },
    plugins: { legend: { display: false }, tooltip: { enabled: false } },
    scales: {
      x: {
        type: 'linear', min: 0, max: 300,
        afterFit: s => { s.height = 134; },
        afterBuildTicks: s => { s.ticks = timeTicks.map(v => ({ value: v })); },
        ticks: { padding: 16, maxRotation: 0, autoSkip: false, callback: v => String(v) },
        title: { display: true, text: 'Time (yr)', padding: { top: 0, bottom: 8 }, font: { size: 50, lineHeight: 1 } },
        grid: { display: false, drawTicks: false }, border: { display: false }
      },
      y: {
        type: 'linear', position: 'left', min: 14.5, max: 18,
        afterFit: s => { s.width = 197; },
        afterBuildTicks: s => { s.ticks = volTicks.map(v => ({ value: v })); },
        ticks: { padding: 16, autoSkip: false, callback: v => v.toFixed(1) },
        title: { display: true, text: 'Volume transport (Sv)', padding: 0, font: { size: 50, lineHeight: 1 } },
        grid: { display: false, drawTicks: false }, border: { display: false }
      },
      y2: {
        type: 'linear', position: 'right', min: 42, max: 56, reverse: true,
        afterFit: s => { s.width = 154; },
        afterBuildTicks: s => { s.ticks = saltTicks.map(v => ({ value: v })); },
        ticks: { padding: 16, autoSkip: false, callback: v => String(v) },
        grid: { display: false, drawTicks: false }, border: { display: false }
      }
    }
  },
  plugins: [seriesBPlugin]
});
</script>
</body>
</html>
